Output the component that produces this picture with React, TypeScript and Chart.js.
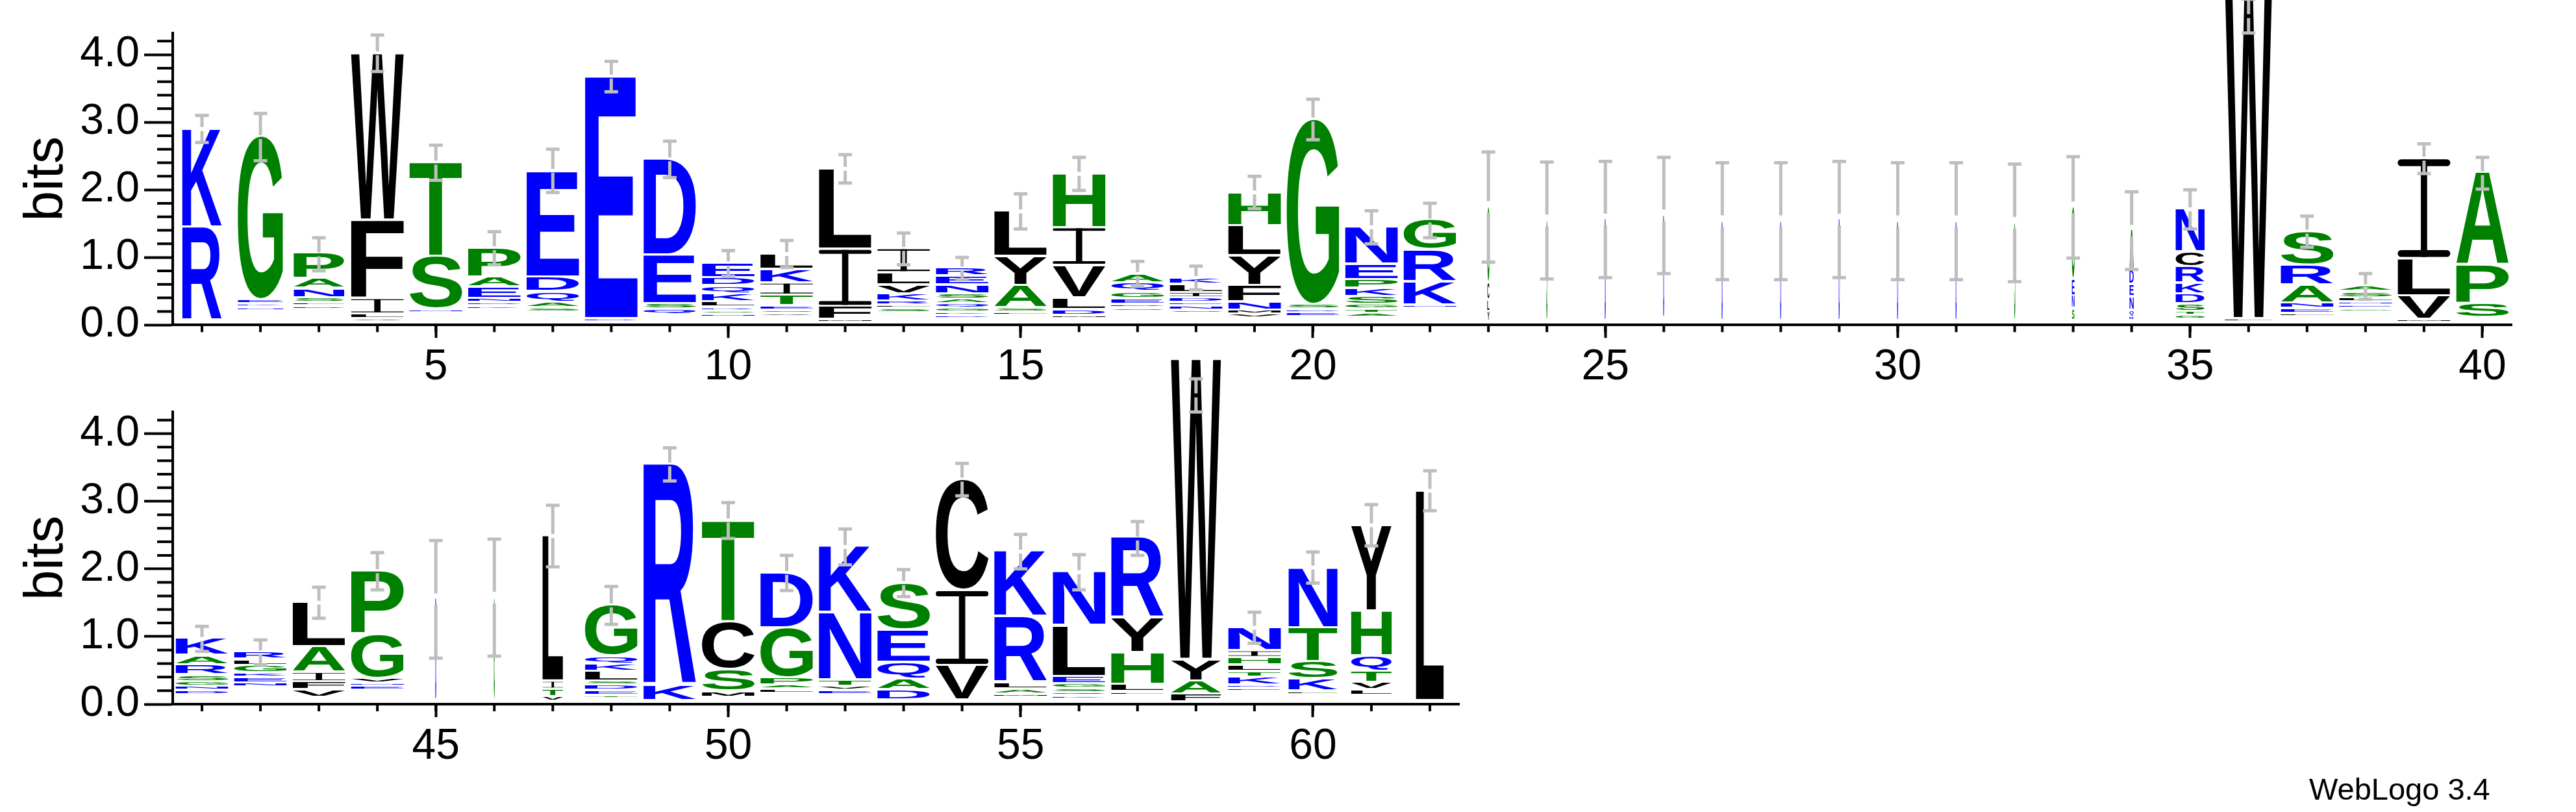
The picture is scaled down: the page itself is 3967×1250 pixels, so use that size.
import React, { useEffect, useRef } from 'react';
import { Chart, registerables } from 'chart.js';

Chart.register(...registerables);

const FONT = '"Liberation Sans", Arial, Helvetica, sans-serif';
const Y_MAX = 4.3219; // log2(20)
const GLYPH_GAP = 3.8;

// ---------- top row (positions 1-40) ----------
const topPositions = [
  '1', '2', '3', '4', '5', '6', '7', '8', '9', '10',
  '11', '12', '13', '14', '15', '16', '17', '18', '19', '20',
  '21', '22', '23', '24', '25', '26', '27', '28', '29', '30',
  '31', '32', '33', '34', '35', '36', '37', '38', '39', '40',
];
// letter:bits from bottom to top ("_" = residue too small to be drawn)
const topStacks = [
  '_:0.05 R:1.39 K:1.46',
  '_:0.20 N:0.05 K:0.05 E:0.06 G:2.43',
  '_:0.22 D:0.05 L:0.05 S:0.07 N:0.14 A:0.15 P:0.38',
  '_:0.03 V:0.05 L:0.07 I:0.23 F:1.16 W:2.47',
  '_:0.17 N:0.05 S:0.78 T:1.40',
  '_:0.22 K:0.05 D:0.05 N:0.06 E:0.17 A:0.15 P:0.43',
  '_:0.18 S:0.06 A:0.09 Q:0.15 D:0.22 E:1.56',
  '_:0.03 D:0.05 E:3.59',
  '_:0.14 Q:0.08 S:0.08 E:0.72 D:1.43',
  '_:0.10 N:0.05 S:0.05 R:0.05 L:0.08 K:0.12 Q:0.12 D:0.12 E:0.22',
  '_:0.11 V:0.05 S:0.05 E:0.06 T:0.16 I:0.18 K:0.20 L:0.23',
  '_:0.02 M:0.05 F:0.19 I:0.85 L:1.19',
  '_:0.17 S:0.06 F:0.05 R:0.06 K:0.11 V:0.13 L:0.18 I:0.36',
  '_:0.08 D:0.05 K:0.05 G:0.06 Q:0.06 A:0.07 S:0.08 N:0.13 E:0.13 R:0.12',
  '_:0.13 F:0.05 S:0.06 A:0.33 Y:0.43 L:0.68',
  '_:0.08 M:0.05 D:0.09 L:0.17 V:0.48 I:0.56 H:0.81',
  '_:0.19 S:0.05 D:0.05 E:0.09 G:0.10 Q:0.13 A:0.14',
  '_:0.16 S:0.05 N:0.06 E:0.05 D:0.07 I:0.08 L:0.12 K:0.10',
  '_:0.09 V:0.06 M:0.06 N:0.12 F:0.24 Y:0.44 L:0.45 H:0.50',
  '_:0.11 E:0.06 D:0.05 S:0.07 G:2.75',
  '_:0.10 A:0.06 T:0.06 G:0.07 S:0.12 K:0.12 P:0.13 E:0.23 N:0.55',
  '_:0.23 N:0.05 K:0.35 R:0.47 G:0.45',
  '_:0.04 Y:0.15 L:0.17 C:0.26 G:1.12',
  '_:0.05 S:1.49',
  '_:0.05 D:1.51',
  '_:0.10 D:1.52',
  '_:0.05 D:1.48',
  '_:0.05 D:1.48',
  '_:0.05 D:1.51',
  '_:0.05 D:1.48',
  '_:0.05 D:1.48',
  '_:0.05 S:1.46',
  '_:0.05 S:0.18 N:0.19 E:0.24 G:1.08',
  '_:0.05 R:0.06 Q:0.10 N:0.20 E:0.18 D:0.22 A:0.59',
  '_:0.07 G:0.06 T:0.06 S:0.11 D:0.15 K:0.16 R:0.24 C:0.22 N:0.64',
  '_:0.03 L:0.05 W:4.97',
  '_:0.11 L:0.05 E:0.07 N:0.08 A:0.27 R:0.29 S:0.50',
  '_:0.18 G:0.05 E:0.05 N:0.05 L:0.06 S:0.09 A:0.09',
  '_:0.02 M:0.05 V:0.35 L:0.55 I:1.48',
  '_:0.10 S:0.21 P:0.57 A:1.38',
];
// fraction of non-gap sequences (stack width)
const topWidths = [
  0.75, 0.86, 0.96, 1, 1, 1, 1, 1, 1, 1,
  1, 1, 1, 1, 1, 1, 1, 1, 1, 1,
  1, 1, 0.04, 0.02, 0.02, 0.02, 0.02, 0.02, 0.02, 0.02,
  0.02, 0.02, 0.05, 0.08, 0.55, 0.9, 1, 1, 1, 1,
];
const topErrLow = [
  2.70, 2.43, 0.80, 3.75, 2.14, 0.89, 1.96, 3.45, 2.18, 0.72,
  0.85, 2.10, 0.89, 0.67, 1.42, 1.99, 0.57, 0.52, 1.72, 2.74,
  1.20, 1.29, 0.93, 0.68, 0.70, 0.76, 0.67, 0.67, 0.70, 0.67,
  0.67, 0.64, 0.99, 0.82, 1.42, 4.32, 1.15, 0.38, 2.24, 2.01,
];
const topErrHigh = [
  3.10, 3.13, 1.29, 4.29, 2.66, 1.38, 2.60, 3.90, 2.72, 1.10,
  1.25, 2.52, 1.36, 1.00, 1.94, 2.48, 0.94, 0.87, 2.20, 3.34,
  1.69, 1.80, 2.56, 2.41, 2.42, 2.48, 2.40, 2.40, 2.42, 2.40,
  2.40, 2.38, 2.49, 1.97, 2.00, 4.82, 1.61, 0.76, 2.68, 2.48,
];

// ---------- bottom row (positions 41-62) ----------
const bottomPositions = [
  '41', '42', '43', '44', '45', '46', '47', '48', '49', '50', '51',
  '52', '53', '54', '55', '56', '57', '58', '59', '60', '61', '62',
];
const bottomStacks = [
  '_:0.13 D:0.06 N:0.06 G:0.07 S:0.10 R:0.15 A:0.14 K:0.26',
  '_:0.24 N:0.06 E:0.09 K:0.06 G:0.11 L:0.09 R:0.11',
  '_:0.09 V:0.11 F:0.12 I:0.14 A:0.38 L:0.66',
  '_:0.19 E:0.06 N:0.05 V:0.07 G:0.66 P:0.94',
  '_:0.05 D:1.51',
  '_:0.05 G:1.52',
  '_:0.03 V:0.07 T:0.11 I:0.12 L:2.16',
  '_:0.07 T:0.05 E:0.07 D:0.08 S:0.06 L:0.14 K:0.11 Q:0.12 G:0.76',
  '_:0.04 K:0.23 R:3.28',
  '_:0.09 M:0.09 S:0.32 C:0.71 T:1.50',
  '_:0.15 L:0.06 A:0.06 P:0.11 G:0.74 D:0.81',
  '_:0.13 E:0.06 V:0.06 T:0.10 N:1.00 K:0.99',
  '_:0.05 D:0.15 A:0.16 Q:0.25 E:0.48 S:0.70',
  '_:0.05 V:0.51 I:1.11 C:1.65',
  '_:0.09 M:0.05 A:0.07 L:0.10 R:0.98 K:0.98',
  '_:0.06 K:0.05 Q:0.05 S:0.06 G:0.07 E:0.11 L:0.75 N:0.81',
  '_:0.12 F:0.05 L:0.11 H:0.47 Y:0.51 R:1.20',
  '_:0.02 F:0.12 A:0.19 Y:0.32 W:4.45',
  '_:0.17 E:0.05 D:0.05 K:0.12 T:0.08 L:0.10 H:0.11 I:0.10 N:0.34',
  '_:0.13 F:0.05 K:0.18 S:0.26 T:0.50 N:0.89',
  '_:0.12 L:0.08 V:0.11 T:0.17 Q:0.22 H:0.67 Y:1.27',
  '_:0.04 L:3.11',
];
const bottomWidths = [
  1, 1, 1, 1, 0.02, 0.02, 0.39, 1, 1, 1, 1,
  1, 1, 1, 1, 1, 1, 0.95, 1, 0.93, 0.77, 0.53,
];
const bottomErrLow = [
  0.78, 0.58, 1.27, 1.69, 0.68, 0.71, 2.03, 1.18, 3.30, 2.45, 1.68,
  2.06, 1.59, 3.08, 2.00, 1.69, 2.20, 4.32, 0.90, 1.79, 2.34, 2.86,
];
const bottomErrHigh = [
  1.15, 0.95, 1.73, 2.24, 2.42, 2.44, 2.94, 1.74, 3.79, 2.98, 2.20,
  2.59, 1.99, 3.56, 2.51, 2.21, 2.70, 4.81, 1.36, 2.25, 2.95, 3.45,
];

const yTickValues = ['0.0', '1.0', '2.0', '3.0', '4.0'];

function letterColor(ch: string): string {
  if ('RKDENQ'.includes(ch)) return '#0000ff';
  if ('SGHTAP'.includes(ch)) return '#008000';
  return '#000000';
}

type Entry = { letter: string; bits: number };
function parseStack(s: string): Entry[] {
  return s.split(' ').map((t) => {
    const [l, v] = t.split(':');
    return { letter: l === '_' ? '' : l, bits: parseFloat(v) };
  });
}

function drawGlyph(ctx: CanvasRenderingContext2D, ch: string, x: number, y: number, w: number, h: number, color: string) {
  ctx.save();
  ctx.fillStyle = color;
  if (ch === 'I') {
    const t = Math.max(h * 0.07, 0.6);
    const sw = w * 0.12;
    ctx.fillRect(x + w / 2 - sw / 2, y, sw, h);
    ctx.beginPath();
    if ((ctx as any).roundRect) {
      (ctx as any).roundRect(x, y, w, t, t / 2);
      (ctx as any).roundRect(x, y + h - t, w, t, t / 2);
    } else {
      ctx.rect(x, y, w, t);
      ctx.rect(x, y + h - t, w, t);
    }
    ctx.fill();
  } else {
    ctx.font = `bold 200px ${FONT}`;
    ctx.textAlign = 'left';
    ctx.textBaseline = 'alphabetic';
    const m = ctx.measureText(ch);
    const l = m.actualBoundingBoxLeft;
    const r = m.actualBoundingBoxRight;
    const a = m.actualBoundingBoxAscent;
    const d = m.actualBoundingBoxDescent;
    const gw = l + r;
    const gh = a + d;
    ctx.translate(x, y);
    ctx.scale(w / gw, h / gh);
    ctx.fillText(ch, l, a);
  }
  ctx.restore();
}

type LogoProps = {
  labels: string[];
  stacks: string[];
  widths: number[];
  errLow: number[];
  errHigh: number[];
  top: number;
  height: number;
  padTop: number;
  padRight: number;
  xHeight: number;
};

function LogoChart(props: LogoProps) {
  const ref = useRef<HTMLCanvasElement>(null);
  useEffect(() => {
    if (!ref.current) return;
    const parsed = props.stacks.map(parseStack);
    const depth = Math.max(...parsed.map((p) => p.length));
    const datasets: any[] = [];
    for (let k = 0; k < depth; k++) {
      datasets.push({
        label: 'rank ' + k,
        data: parsed.map((p) => (p[k] ? p[k].bits : 0)),
        backgroundColor: 'rgba(0,0,0,0)',
        borderWidth: 0,
        categoryPercentage: 0.9,
        barPercentage: 1,
      });
    }
    const isMajor = (i: number) => Number(props.labels[i]) % 5 === 0;

    const logoPlugin = {
      id: 'logoGlyphs',
      afterDatasetsDraw(chart: any) {
        const ctx: CanvasRenderingContext2D = chart.ctx;
        const xs = chart.scales.x;
        const ys = chart.scales.y;
        chart.data.datasets.forEach((_ds: any, k: number) => {
          const meta = chart.getDatasetMeta(k);
          meta.data.forEach((el: any, i: number) => {
            const e = parsed[i][k];
            if (!e || !e.letter) return;
            const p = el.getProps(['x', 'y', 'base', 'width'], true);
            const top = Math.min(p.y, p.base);
            const h = Math.abs(p.base - p.y) - GLYPH_GAP;
            if (h < 0.4) return;
            const w = p.width * props.widths[i];
            drawGlyph(ctx, e.letter, p.x - w / 2, top, w, h, letterColor(e.letter));
          });
        });
        // error bars
        ctx.save();
        ctx.fillStyle = '#bebebe';
        props.errLow.forEach((lo, i) => {
          const cx = xs.getPixelForValue(i);
          const yl = ys.getPixelForValue(lo);
          const yh = ys.getPixelForValue(props.errHigh[i]);
          const yc = (yl + yh) / 2;
          const gap = props.widths[i] < 0.2 ? 9 : 3;
          ctx.fillRect(cx - 2.5, yh, 5, yc - gap - yh);
          ctx.fillRect(cx - 2.5, yc + gap, 5, yl - yc - gap);
          ctx.fillRect(cx - 10.5, yh - 2.5, 21, 5);
          ctx.fillRect(cx - 10.5, yl - 2.5, 21, 5);
        });
        ctx.restore();
      },
      afterDraw(chart: any) {
        const ctx: CanvasRenderingContext2D = chart.ctx;
        const xs = chart.scales.x;
        const ys = chart.scales.y;
        const ca = chart.chartArea;
        ctx.save();
        ctx.strokeStyle = '#000';
        ctx.lineWidth = 4;
        ctx.beginPath();
        for (let j = 1; j * 0.2 < Y_MAX; j++) {
          if (j % 5 === 0) continue;
          const py = ys.getPixelForValue(j * 0.2);
          ctx.moveTo(ca.left - 24, py);
          ctx.lineTo(ca.left, py);
        }
        props.labels.forEach((_l, i) => {
          const px = xs.getPixelForValue(i);
          ctx.moveTo(px, ca.bottom);
          ctx.lineTo(px, ca.bottom + 11);
        });
        ctx.stroke();
        ctx.restore();
      },
    };

    const chart = new Chart(ref.current, {
      type: 'bar',
      data: { labels: props.labels, datasets },
      options: {
        animation: false,
        responsive: false,
        maintainAspectRatio: false,
        events: [],
        layout: { padding: { left: 0, right: props.padRight, top: props.padTop, bottom: 0 } },
        plugins: { legend: { display: false }, tooltip: { enabled: false }, title: { display: false } },
        scales: {
          x: {
            type: 'category',
            stacked: true,
            offset: true,
            grid: {
              display: true,
              drawOnChartArea: false,
              offset: false,
              drawTicks: true,
              tickLength: 20,
              tickWidth: 4,
              tickColor: (c: any) => (isMajor(c.index) ? '#000' : 'rgba(0,0,0,0)'),
            },
            border: { display: true, color: '#000', width: 4 },
            ticks: {
              autoSkip: false,
              maxRotation: 0,
              minRotation: 0,
              padding: 6,
              color: '#000',
              font: { family: FONT, size: 66 },
              callback: (_v: any, i: number) => (isMajor(i) ? props.labels[i] : ''),
            },
            afterFit: (s: any) => {
              s.height = props.xHeight;
            },
          },
          y: {
            type: 'linear',
            stacked: true,
            min: 0,
            max: Y_MAX,
            grid: {
              display: true,
              drawOnChartArea: false,
              drawTicks: true,
              tickLength: 44,
              tickWidth: 4,
              tickColor: '#000',
            },
            border: { display: true, color: '#000', width: 4 },
            ticks: {
              stepSize: 1,
              includeBounds: false,
              padding: 7,
              color: '#000',
              font: { family: FONT, size: 66 },
              callback: (v: any) => yTickValues[Math.round(Number(v))] ?? '',
            },
            title: {
              display: true,
              text: 'bits',
              color: '#000',
              font: { family: FONT, size: 84 },
              padding: { top: 22, bottom: 0 },
            },
            afterFit: (s: any) => {
              s.width = 266;
            },
          },
        },
      } as any,
      plugins: [logoPlugin],
    });
    return () => chart.destroy();
  }, []);
  return (
    <canvas
      ref={ref}
      width={3967}
      height={props.height}
      style={{ position: 'absolute', left: 0, top: props.top, width: 3967, height: props.height }}
    />
  );
}

export default function App() {
  return (
    <div style={{ position: 'absolute', left: 0, top: 0, width: 3967, height: 1250, background: '#fff', overflow: 'hidden' }}>
      <LogoChart
        labels={topPositions}
        stacks={topStacks}
        widths={topWidths}
        errLow={topErrLow}
        errHigh={topErrHigh}
        top={0}
        height={620}
        padTop={50.6}
        padRight={99}
        xHeight={119.8}
      />
      <LogoChart
        labels={bottomPositions}
        stacks={bottomStacks}
        widths={bottomWidths}
        errLow={bottomErrLow}
        errHigh={bottomErrHigh}
        top={510}
        height={740}
        padTop={124}
        padRight={1720}
        xHeight={166}
      />
      <div
        style={{
          position: 'absolute',
          left: 3556,
          top: 1191,
          fontFamily: FONT,
          fontSize: 47,
          lineHeight: '47px',
          color: '#000',
          whiteSpace: 'nowrap',
        }}
      >
        WebLogo 3.4
      </div>
    </div>
  );
}
